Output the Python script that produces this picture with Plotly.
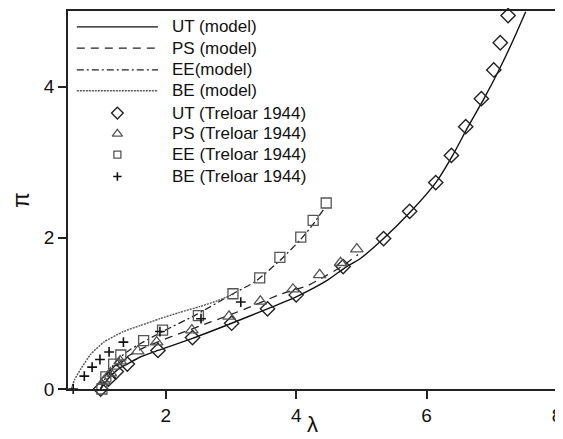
import plotly.graph_objects as go

# ---- model curves ----
ut_model_lam = [1.00, 1.05, 1.10, 1.20, 1.30, 1.41, 1.60, 1.88, 2.41, 3.01, 3.53, 4.00, 4.48, 4.74, 4.99, 5.34, 5.75, 6.15, 6.40, 6.63, 6.88, 7.11, 7.31, 7.52]
ut_model_pi = [0.00, 0.06, 0.12, 0.21, 0.28, 0.33, 0.42, 0.51, 0.67, 0.87, 1.05, 1.22, 1.44, 1.60, 1.73, 1.99, 2.34, 2.74, 3.09, 3.46, 3.84, 4.22, 4.58, 4.99]

ps_model_lam = [1.00, 1.05, 1.10, 1.20, 1.30, 1.45, 1.65, 1.90, 2.20, 2.67, 3.22, 3.78, 4.18, 4.46, 4.70, 4.95]
ps_model_pi = [0.00, 0.08, 0.15, 0.27, 0.36, 0.45, 0.54, 0.63, 0.73, 0.88, 1.06, 1.26, 1.37, 1.50, 1.62, 1.78]

ee_model_lam = [1.00, 1.05, 1.10, 1.20, 1.30, 1.45, 1.65, 1.95, 2.46, 3.03, 3.37, 3.75, 4.07, 4.26, 4.44]
ee_model_pi = [0.00, 0.10, 0.19, 0.32, 0.42, 0.52, 0.62, 0.76, 0.98, 1.26, 1.42, 1.70, 1.98, 2.18, 2.40]

be_model_lam = [0.55, 0.60, 0.70, 0.85, 1.05, 1.35, 1.61, 1.91, 2.20, 2.52, 2.80, 3.05]
be_model_pi = [0.00, 0.12, 0.27, 0.46, 0.62, 0.76, 0.84, 0.93, 1.01, 1.09, 1.17, 1.26]

# ---- Treloar 1944 data ----
ut_data_lam = [1.00, 1.12, 1.24, 1.41, 1.88, 2.41, 3.01, 3.56, 4.00, 4.72, 5.34, 5.74, 6.14, 6.38, 6.60, 6.84, 7.03, 7.13, 7.25]
ut_data_pi = [0.00, 0.13, 0.23, 0.33, 0.51, 0.68, 0.87, 1.06, 1.245, 1.62, 1.99, 2.35, 2.73, 3.09, 3.47, 3.84, 4.22, 4.58, 4.94]

ps_data_lam = [1.05, 1.15, 1.30, 1.57, 1.86, 2.40, 2.97, 3.45, 3.95, 4.36, 4.68, 4.93]
ps_data_pi = [0.10, 0.21, 0.37, 0.50, 0.62, 0.78, 0.96, 1.16, 1.32, 1.51, 1.67, 1.85]

ee_data_lam = [1.02, 1.08, 1.20, 1.31, 1.66, 1.95, 2.50, 3.03, 3.44, 3.75, 4.07, 4.26, 4.46]
ee_data_pi = [0.00, 0.16, 0.33, 0.45, 0.64, 0.78, 0.97, 1.26, 1.47, 1.74, 2.01, 2.23, 2.46]

be_data_lam = [0.58, 0.75, 0.87, 0.99, 1.13, 1.35, 1.91, 2.54, 3.15]
be_data_pi = [0.00, 0.17, 0.29, 0.39, 0.49, 0.62, 0.76, 0.93, 1.15]

# ---- axis ticks ----
x_ticks = [2, 4, 6, 8]
y_ticks = [0, 2, 4]

# ---- legend labels ----
legend_line_labels = ["UT (model)", "PS (model)", "EE(model)", "BE (model)"]
legend_marker_labels = ["UT (Treloar 1944)", "PS (Treloar 1944)", "EE (Treloar 1944)", "BE (Treloar 1944)"]

FONT = "Liberation Sans, Arial, sans-serif"
line_styles = [
    dict(color="#111111", width=1.4, dash="solid"),
    dict(color="#222222", width=1.3, dash="8px,6px"),
    dict(color="#222222", width=1.3, dash="7px,3px,2px,3px"),
    dict(color="#555555", width=1.4, dash="2px,1px"),
]
marker_styles = [
    dict(symbol="diamond-open", size=11, color="#222222", line=dict(width=1.4, color="#222222")),
    dict(symbol="triangle-up-open", size=11, color="#555555", line=dict(width=1.3, color="#555555")),
    dict(symbol="square-open", size=10, color="#555555", line=dict(width=1.3, color="#555555")),
    dict(symbol="cross-thin", size=7, color="#111111", line=dict(width=1.6, color="#111111")),
]

fig = go.Figure()

models = [(ut_model_lam, ut_model_pi), (ps_model_lam, ps_model_pi),
          (ee_model_lam, ee_model_pi), (be_model_lam, be_model_pi)]
datas = [(ut_data_lam, ut_data_pi), (ps_data_lam, ps_data_pi),
         (ee_data_lam, ee_data_pi), (be_data_lam, be_data_pi)]

for (lx, ly), st, name in zip(models, line_styles, legend_line_labels):
    fig.add_trace(go.Scatter(x=lx, y=ly, mode="lines", name=name,
                             line=dict(st, shape="spline", smoothing=0.6),
                             showlegend=False, cliponaxis=True))

for (dx, dy), ms, name in zip(datas, marker_styles, legend_marker_labels):
    fig.add_trace(go.Scatter(x=dx, y=dy, mode="markers", name=name,
                             marker=ms, showlegend=False, cliponaxis=False))

# ---- hand-built legend (paper-like overlay axes) ----
row_y = [0.958, 0.902, 0.844, 0.789, 0.730, 0.675, 0.620, 0.562]
line_x0, line_x1, mark_x, text_x = 0.018, 0.184, 0.101, 0.208

shapes = []
for i, st in enumerate(line_styles):
    shapes.append(dict(type="line", xref="paper", yref="paper",
                       x0=line_x0, x1=line_x1, y0=row_y[i], y1=row_y[i],
                       line=dict(color=st["color"], width=st["width"], dash=st["dash"])))

legend_marker_sizes = [9, 9, 7, 6]
for i, ms in enumerate(marker_styles):
    m = dict(ms)
    m["size"] = legend_marker_sizes[i]
    fig.add_trace(go.Scatter(x=[mark_x], y=[row_y[4 + i]], mode="markers",
                             marker=m, xaxis="x2", yaxis="y2",
                             showlegend=False, hoverinfo="skip"))

annotations = []
for i, lab in enumerate(legend_line_labels + legend_marker_labels):
    annotations.append(dict(x=text_x, y=row_y[i], xref="paper", yref="paper",
                            text=lab, showarrow=False, xanchor="left", yanchor="middle",
                            font=dict(family=FONT, size=17, color="#111111")))

# x-axis title placed as annotation just below the tick labels
annotations.append(dict(x=0.5, y=-0.093, xref="paper", yref="paper", text="λ",
                        showarrow=False, xanchor="center", yanchor="middle",
                        font=dict(family=FONT, size=22, color="#111111")))

# page body has an 8px default margin, so the figure is sized to fit the window
fig.update_layout(
    width=555, height=431,
    margin=dict(l=60, r=1, t=3, b=50),
    paper_bgcolor="white", plot_bgcolor="white",
    showlegend=False,
    font=dict(family=FONT, color="#111111"),
    shapes=shapes, annotations=annotations,
    xaxis=dict(range=[0.5, 8], tickvals=x_ticks, ticks="outside", ticklen=8, tickwidth=1.5,
               tickcolor="#222222", showline=True, linecolor="#222222", linewidth=1.6,
               mirror=True, showgrid=False, zeroline=False, ticklabeloverflow="allow",
               tickfont=dict(family=FONT, size=19, color="#111111")),
    yaxis=dict(range=[0, 5], tickvals=y_ticks, ticks="outside", ticklen=8, tickwidth=1.5,
               tickcolor="#222222", showline=True, linecolor="#222222", linewidth=1.6,
               mirror=True, showgrid=False, zeroline=False,
               tickfont=dict(family=FONT, size=19, color="#111111"),
               title=dict(text="π", font=dict(family=FONT, size=23, color="#111111"), standoff=14)),
    xaxis2=dict(overlaying="x", range=[0, 1], visible=False, fixedrange=True),
    yaxis2=dict(overlaying="y", range=[0, 1], visible=False, fixedrange=True),
)

fig.write_html("out.html")
